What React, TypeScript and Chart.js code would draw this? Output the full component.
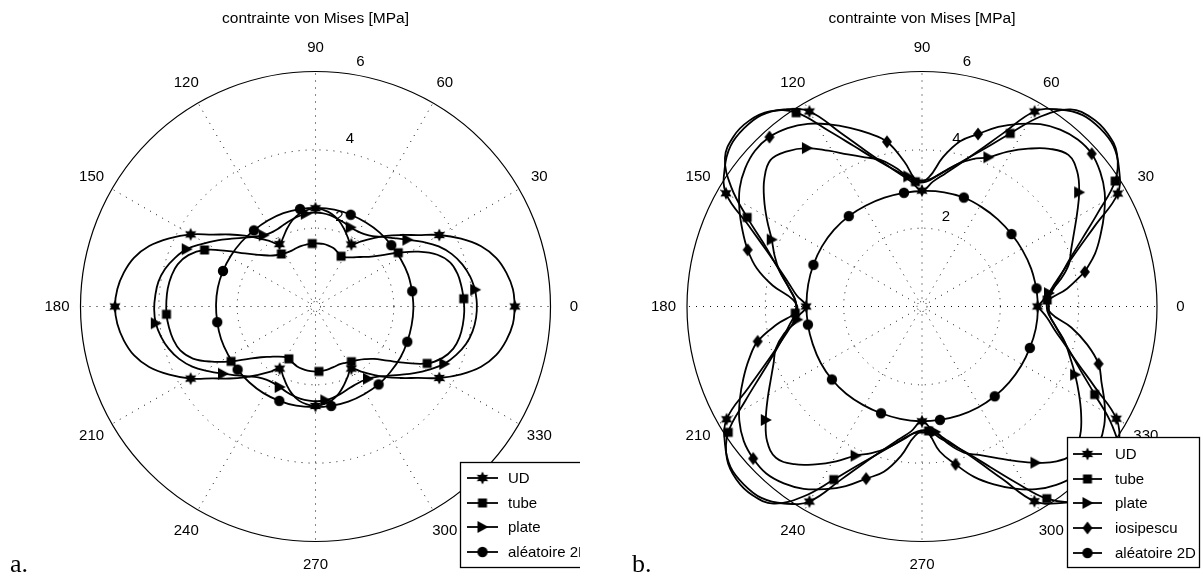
import { useEffect, useRef } from 'react';
import { Chart, registerables } from 'chart.js';

Chart.register(...registerables);

// ---------- axis / tick definitions ----------
const ANGLE_TICKS = [0, 30, 60, 90, 120, 150, 180, 210, 240, 270, 300, 330];
const ANGLE_LABELS = ['0', '30', '60', '90', '120', '150', '180', '210', '240', '270', '300', '330'];
const RADIAL_TICKS = [2, 4, 6];
const R_MAX = 6;
const TITLE = 'contrainte von Mises [MPa]';

// ---------- panel a (angles in degrees: start + i*step) ----------
const UD_A_START = 0;
const UD_A_STEP = 5;
const UD_A = [
  5.09, 5.06, 4.95, 4.78, 4.5, 4.1, 3.65, 3.18, 2.84, 2.55, 2.27, 2.03, 1.83, 1.95, 2.12, 2.28, 2.4, 2.47,
  2.51, 2.47, 2.4, 2.28, 2.12, 1.95, 1.84, 2.04, 2.28, 2.56, 2.86, 3.2, 3.68, 4.12, 4.52, 4.8, 4.97, 5.08,
  5.12, 5.08, 4.97, 4.8, 4.52, 4.12, 3.68, 3.2, 2.86, 2.56, 2.28, 2.04, 1.83, 1.96, 2.14, 2.31, 2.44, 2.51,
  2.54, 2.5, 2.43, 2.3, 2.13, 1.96, 1.83, 2.03, 2.27, 2.55, 2.84, 3.18, 3.65, 4.1, 4.5, 4.78, 4.95, 5.06,
];

const TUBE_A_START = 3;
const TUBE_A_STEP = 5;
const TUBE_A = [
  3.79, 3.76, 3.72, 3.62, 3.38, 2.98, 2.52, 2.12, 1.86, 1.7, 1.57, 1.48, 1.44, 1.5, 1.56, 1.59, 1.61, 1.61,
  1.61, 1.6, 1.59, 1.57, 1.55, 1.56, 1.6, 1.66, 1.78, 1.97, 2.25, 2.68, 3.18, 3.5, 3.68, 3.76, 3.8, 3.81,
  3.81, 3.78, 3.73, 3.63, 3.4, 3.0, 2.57, 2.17, 1.9, 1.73, 1.6, 1.52, 1.5, 1.55, 1.6, 1.63, 1.65, 1.66,
  1.66, 1.65, 1.63, 1.61, 1.6, 1.63, 1.68, 1.74, 1.84, 2.0, 2.3, 2.72, 3.2, 3.5, 3.68, 3.76, 3.79, 3.8,
];

const PLATE_A_START = 6;
const PLATE_A_STEP = 5;
const PLATE_A = [
  4.1, 4.02, 3.9, 3.73, 3.5, 3.2, 2.9, 2.66, 2.47, 2.31, 2.23, 2.2, 2.21, 2.26, 2.31, 2.36, 2.39, 2.4,
  2.38, 2.34, 2.29, 2.24, 2.2, 2.2, 2.25, 2.36, 2.53, 2.75, 3.02, 3.3, 3.6, 3.8, 3.96, 4.06, 4.1, 4.12,
  4.1, 4.02, 3.9, 3.73, 3.5, 3.2, 2.92, 2.68, 2.48, 2.33, 2.25, 2.23, 2.25, 2.3, 2.35, 2.39, 2.41, 2.42,
  2.41, 2.37, 2.32, 2.27, 2.24, 2.24, 2.28, 2.38, 2.55, 2.77, 3.04, 3.32, 3.6, 3.8, 3.96, 4.06, 4.11, 4.12,
];

const ALEA_A_START = 9;
const ALEA_A_STEP = 10;
const ALEA_A = [
  2.5, 2.5, 2.49, 2.49, 2.5, 2.5, 2.51, 2.52, 2.52, 2.52, 2.52, 2.51, 2.5, 2.51, 2.52, 2.53, 2.54, 2.54,
  2.54, 2.55, 2.55, 2.56, 2.57, 2.58, 2.58, 2.58, 2.57, 2.57, 2.57, 2.56, 2.56, 2.54, 2.53, 2.51, 2.5, 2.5,
];

// ---------- panel b ----------
const UD_B_START = 0;
const UD_B_STEP = 5;
const UD_B = [
  2.95, 3.2, 3.45, 3.78, 4.23, 4.87, 5.77, 6.14, 6.38, 6.43, 6.38, 6.14, 5.75, 4.87, 4.23, 3.78, 3.45, 3.2,
  2.96, 3.2, 3.46, 3.79, 4.24, 4.88, 5.75, 6.14, 6.38, 6.43, 6.38, 6.15, 5.78, 4.88, 4.24, 3.79, 3.46, 3.21,
  2.96, 3.21, 3.46, 3.79, 4.24, 4.88, 5.76, 6.14, 6.38, 6.43, 6.38, 6.14, 5.75, 4.87, 4.23, 3.78, 3.45, 3.2,
  2.93, 3.19, 3.44, 3.77, 4.22, 4.86, 5.74, 6.13, 6.38, 6.43, 6.38, 6.14, 5.73, 4.87, 4.23, 3.78, 3.44, 3.2,
];

const TUBE_B_START = 3;
const TUBE_B_STEP = 5;
const TUBE_B = [
  3.2, 3.4, 3.65, 3.98, 4.45, 5.08, 5.88, 6.32, 6.48, 6.48, 6.3, 5.72, 4.96, 4.37, 3.95, 3.63, 3.38, 3.19,
  3.19, 3.4, 3.65, 3.98, 4.45, 5.08, 5.9, 6.32, 6.48, 6.48, 6.3, 5.74, 5.01, 4.38, 3.95, 3.63, 3.39, 3.22,
  3.24, 3.42, 3.66, 3.99, 4.46, 5.1, 5.9, 6.32, 6.48, 6.48, 6.3, 5.72, 4.96, 4.37, 3.95, 3.63, 3.38, 3.19,
  3.18, 3.4, 3.65, 3.98, 4.45, 5.08, 5.85, 6.32, 6.48, 6.48, 6.3, 5.72, 4.95, 4.37, 3.95, 3.63, 3.38, 3.2,
];

const PLATE_B_START = 6;
const PLATE_B_STEP = 5;
const PLATE_B = [
  3.26, 3.6, 3.9, 4.08, 4.32, 4.62, 4.96, 5.25, 5.38, 5.18, 4.86, 4.52, 4.17, 3.98, 3.75, 3.48, 3.27, 3.22,
  3.34, 3.62, 3.9, 4.08, 4.32, 4.64, 5.0, 5.25, 5.38, 5.18, 4.86, 4.52, 4.2, 3.98, 3.75, 3.48, 3.27, 3.2,
  3.2, 3.58, 3.88, 4.06, 4.3, 4.6, 4.93, 5.24, 5.37, 5.18, 4.86, 4.52, 4.17, 3.96, 3.73, 3.46, 3.25, 3.22,
  3.22, 3.58, 3.88, 4.06, 4.3, 4.6, 4.93, 5.24, 5.38, 5.2, 4.9, 4.58, 4.28, 4.0, 3.76, 3.48, 3.27, 3.24,
];

const IOS_B_START = 12;
const IOS_B_STEP = 5;
const IOS_B = [
  4.25, 4.62, 4.92, 5.22, 5.5, 5.7, 5.83, 5.83, 5.73, 5.55, 5.28, 4.98, 4.63, 4.33, 3.85, 3.3, 3.2, 3.73,
  4.3, 4.62, 4.92, 5.22, 5.5, 5.7, 5.82, 5.83, 5.73, 5.55, 5.28, 4.98, 4.68, 4.33, 3.85, 3.3, 3.2, 3.73,
  4.29, 4.62, 4.92, 5.22, 5.5, 5.7, 5.8, 5.83, 5.73, 5.55, 5.28, 4.98, 4.62, 4.33, 3.85, 3.3, 3.2, 3.73,
  4.12, 4.55, 4.9, 5.22, 5.5, 5.7, 5.82, 5.83, 5.73, 5.55, 5.28, 4.98, 4.74, 4.33, 3.85, 3.3, 3.2, 3.73,
];

const ALEA_B_START = 9;
const ALEA_B_STEP = 10;
const ALEA_B = [
  2.96, 2.95, 2.94, 2.94, 2.95, 2.96, 2.98, 2.97, 2.95, 2.94, 2.94, 2.95, 2.97, 2.98, 2.98, 2.97, 2.96, 2.95,
  2.95, 2.95, 2.96, 2.96, 2.95, 2.93, 2.92, 2.92, 2.93, 2.93, 2.94, 2.95, 2.95, 2.95, 2.95, 2.95, 2.96, 2.96,
];

type Series = { label: string; marker: string; start: number; step: number; r: number[] };

const SERIES_A: Series[] = [
  { label: 'UD', marker: 'hexagram', start: UD_A_START, step: UD_A_STEP, r: UD_A },
  { label: 'tube', marker: 'square', start: TUBE_A_START, step: TUBE_A_STEP, r: TUBE_A },
  { label: 'plate', marker: 'triangle', start: PLATE_A_START, step: PLATE_A_STEP, r: PLATE_A },
  { label: 'aléatoire 2D', marker: 'circle', start: ALEA_A_START, step: ALEA_A_STEP, r: ALEA_A },
];

const SERIES_B: Series[] = [
  { label: 'UD', marker: 'hexagram', start: UD_B_START, step: UD_B_STEP, r: UD_B },
  { label: 'tube', marker: 'square', start: TUBE_B_START, step: TUBE_B_STEP, r: TUBE_B },
  { label: 'plate', marker: 'triangle', start: PLATE_B_START, step: PLATE_B_STEP, r: PLATE_B },
  { label: 'iosipescu', marker: 'diamond', start: IOS_B_START, step: IOS_B_STEP, r: IOS_B },
  { label: 'aléatoire 2D', marker: 'circle', start: ALEA_B_START, step: ALEA_B_STEP, r: ALEA_B },
];

const MARKER_EVERY_DEG = 30;
const FONT = '15px "Liberation Sans", Arial, Helvetica, sans-serif';
const TITLE_FONT = '15.5px "Liberation Sans", Arial, Helvetica, sans-serif';

function makeMarker(kind: string): HTMLCanvasElement {
  const c = document.createElement('canvas');
  const s = 16;
  c.width = s;
  c.height = s;
  const g = c.getContext('2d') as CanvasRenderingContext2D;
  const m = s / 2;
  g.fillStyle = '#000';
  g.beginPath();
  if (kind === 'hexagram') {
    for (let i = 0; i < 12; i++) {
      const a = -Math.PI / 2 + (i * Math.PI) / 6;
      const rr = i % 2 === 0 ? 6.5 : 3.5;
      const x = m + rr * Math.cos(a);
      const y = m + rr * Math.sin(a);
      if (i === 0) g.moveTo(x, y);
      else g.lineTo(x, y);
    }
  } else if (kind === 'square') {
    g.rect(m - 4.5, m - 4.5, 9, 9);
  } else if (kind === 'triangle') {
    g.moveTo(m + 6, m);
    g.lineTo(m - 5, m - 6);
    g.lineTo(m - 5, m + 6);
  } else if (kind === 'diamond') {
    g.moveTo(m, m - 6.5);
    g.lineTo(m + 5, m);
    g.lineTo(m, m + 6.5);
    g.lineTo(m - 5, m);
  } else {
    g.arc(m, m, 5.2, 0, Math.PI * 2);
  }
  g.closePath();
  g.fill();
  return c;
}

type PanelCfg = {
  series: Series[];
  padding: { left: number; right: number; top: number; bottom: number };
  legend: { x: number; y: number; w: number; h: number; rowY: number[]; lineX0: number; lineX1: number; textX: number; clipRight: number };
  panelLabel: string;
  panelLabelX: number;
};

function buildDatasets(series: Series[], markers: Record<string, HTMLCanvasElement>) {
  return series.map((s) => {
    const pts = s.r.map((v, i) => {
      const th = ((s.start + i * s.step) * Math.PI) / 180;
      return { x: v * Math.cos(th), y: v * Math.sin(th) };
    });
    pts.push({ ...pts[0] });
    const n = s.r.length;
    const every = MARKER_EVERY_DEG / s.step;
    return {
      label: s.label,
      data: pts,
      showLine: true,
      borderColor: '#000',
      backgroundColor: '#000',
      borderWidth: 1.8,
      tension: 0.4,
      fill: false,
      clip: false as any,
      pointStyle: markers[s.marker],
      pointRadius: (ctx: any) => (ctx.dataIndex < n && ctx.dataIndex % every === 0 ? 5 : 0),
      pointHoverRadius: 0,
    };
  });
}

function decorPlugin(cfg: PanelCfg, markers: Record<string, HTMLCanvasElement>) {
  return {
    id: 'polarDecor',
    beforeDatasetsDraw(chart: any) {
      const ctx: CanvasRenderingContext2D = chart.ctx;
      const xs = chart.scales.x;
      const ys = chart.scales.y;
      const cx = xs.getPixelForValue(0);
      const cy = ys.getPixelForValue(0);
      const k = xs.getPixelForValue(1) - cx;
      const R = R_MAX * k;
      ctx.save();
      // dotted grid
      ctx.strokeStyle = '#111';
      ctx.lineWidth = 1;
      ctx.setLineDash([1, 6]);
      ANGLE_TICKS.forEach((a) => {
        const t = (a * Math.PI) / 180;
        ctx.beginPath();
        ctx.moveTo(cx + 8 * Math.cos(t), cy - 8 * Math.sin(t));
        ctx.lineTo(cx + R * Math.cos(t), cy - R * Math.sin(t));
        ctx.stroke();
      });
      RADIAL_TICKS.filter((v) => v < R_MAX).forEach((v) => {
        ctx.beginPath();
        ctx.arc(cx, cy, v * k, 0, Math.PI * 2);
        ctx.stroke();
      });
      ctx.setLineDash([1, 2]);
      ctx.beginPath();
      ctx.arc(cx, cy, 5, 0, Math.PI * 2);
      ctx.stroke();
      ctx.setLineDash([]);
      // outer circle
      ctx.strokeStyle = '#000';
      ctx.lineWidth = 1.2;
      ctx.beginPath();
      ctx.arc(cx, cy, R, 0, Math.PI * 2);
      ctx.stroke();
      // labels
      ctx.fillStyle = '#000';
      ctx.font = FONT;
      ctx.textAlign = 'center';
      ctx.textBaseline = 'middle';
      ANGLE_TICKS.forEach((a, i) => {
        const t = (a * Math.PI) / 180;
        ctx.fillText(ANGLE_LABELS[i], cx + 1.1 * R * Math.cos(t), cy - 1.1 * R * Math.sin(t));
      });
      RADIAL_TICKS.forEach((v) => {
        const rp = v * k;
        ctx.fillText(String(v), cx + 0.134 * rp + 13.5, cy - 0.989 * rp - 12.5);
      });
      ctx.font = TITLE_FONT;
      ctx.fillText(TITLE, cx, 18.5);
      ctx.restore();
    },
    afterDraw(chart: any) {
      const ctx: CanvasRenderingContext2D = chart.ctx;
      const L = cfg.legend;
      ctx.save();
      ctx.beginPath();
      ctx.rect(0, 0, L.clipRight, chart.height);
      ctx.clip();
      ctx.fillStyle = '#fff';
      ctx.fillRect(L.x, L.y, L.w, L.h);
      ctx.strokeStyle = '#000';
      ctx.lineWidth = 1.3;
      ctx.strokeRect(L.x + 0.5, L.y + 0.5, L.w, L.h);
      ctx.font = FONT;
      ctx.textAlign = 'left';
      ctx.textBaseline = 'middle';
      cfg.series.forEach((s, i) => {
        const y = L.rowY[i];
        ctx.strokeStyle = '#000';
        ctx.lineWidth = 1.8;
        ctx.beginPath();
        ctx.moveTo(L.lineX0, y);
        ctx.lineTo(L.lineX1, y);
        ctx.stroke();
        const mk = markers[s.marker];
        ctx.drawImage(mk, (L.lineX0 + L.lineX1) / 2 - mk.width / 2, y - mk.height / 2);
        ctx.fillStyle = '#000';
        ctx.fillText(s.label, L.textX, y + 1);
      });
      ctx.restore();
      ctx.save();
      ctx.fillStyle = '#000';
      ctx.font = '26px "Liberation Serif", "Times New Roman", serif';
      ctx.textAlign = 'left';
      ctx.textBaseline = 'alphabetic';
      ctx.fillText(cfg.panelLabel, cfg.panelLabelX, 572);
      ctx.restore();
    },
  };
}

const CANVAS_W = 601;
const CANVAS_H = 574;

const PANEL_A: PanelCfg = {
  series: SERIES_A,
  padding: { left: 80.5, right: 50.5, top: 71.5, bottom: 32.5 },
  legend: { x: 460, y: 462, w: 160, h: 105, rowY: [478, 503, 527, 552], lineX0: 467, lineX1: 498, textX: 508, clipRight: 580 },
  panelLabel: 'a.',
  panelLabelX: 10,
};

const PANEL_B: PanelCfg = {
  series: SERIES_B,
  padding: { left: 86, right: 45, top: 71.5, bottom: 32.5 },
  legend: { x: 466, y: 437, w: 132, h: 130, rowY: [454, 479, 503, 528, 553], lineX0: 472, lineX1: 501, textX: 514, clipRight: 601 },
  panelLabel: 'b.',
  panelLabelX: 31,
};

function Panel({ cfg, left }: { cfg: PanelCfg; left: number }) {
  const ref = useRef<HTMLCanvasElement | null>(null);
  useEffect(() => {
    if (!ref.current) return;
    const markers: Record<string, HTMLCanvasElement> = {
      hexagram: makeMarker('hexagram'),
      square: makeMarker('square'),
      triangle: makeMarker('triangle'),
      diamond: makeMarker('diamond'),
      circle: makeMarker('circle'),
    };
    const chart = new Chart(ref.current, {
      type: 'scatter',
      data: { datasets: buildDatasets(cfg.series, markers) as any },
      options: {
        animation: false,
        responsive: false,
        devicePixelRatio: 1,
        events: [],
        layout: { padding: cfg.padding },
        scales: {
          x: { type: 'linear', min: -R_MAX, max: R_MAX, display: false },
          y: { type: 'linear', min: -R_MAX, max: R_MAX, display: false },
        },
        elements: { line: { capBezierPoints: false } },
        plugins: { legend: { display: false }, tooltip: { enabled: false }, title: { display: false } },
      },
      plugins: [decorPlugin(cfg, markers)],
    });
    return () => chart.destroy();
  }, [cfg]);
  return (
    <canvas
      ref={ref}
      width={CANVAS_W}
      height={CANVAS_H}
      style={{ position: 'absolute', left, top: 0, width: CANVAS_W, height: CANVAS_H }}
    />
  );
}

export default function App() {
  return (
    <div style={{ position: 'absolute', left: 0, top: 0, width: 1202, height: 574, background: '#fff', overflow: 'hidden' }}>
      <Panel cfg={PANEL_A} left={0} />
      <Panel cfg={PANEL_B} left={601} />
    </div>
  );
}
